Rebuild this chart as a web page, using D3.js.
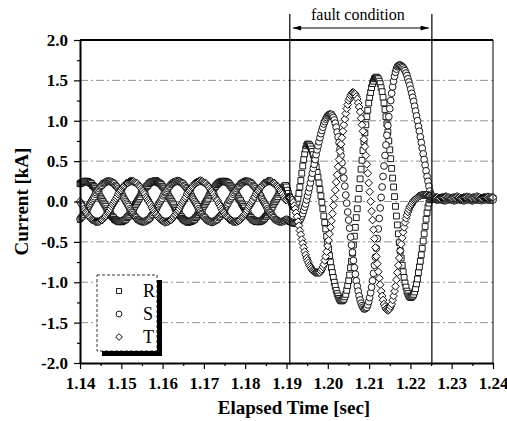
<!DOCTYPE html>
<html>
<head>
<meta charset="utf-8">
<script src="https://cdnjs.cloudflare.com/ajax/libs/d3/7.8.5/d3.min.js"></script>
<style>
  body { margin: 0; background: #fff; }
  svg text { font-family: 'Liberation Serif', 'Times New Roman', serif; fill: #000; }
</style>
</head>
<body>
<script>
// Phase currents [kA], one sample every 1/4320 s from 1.14 s
const startTime = 1.14
const sampleRate = 4320

const phaseR = [
  // before the fault
  0.22, 0.23, 0.23, 0.24, 0.25, 0.25,
  0.25, 0.25, 0.25, 0.24, 0.23, 0.23, 0.22, 0.20, 0.19, 0.18, 0.16, 0.14, 0.13, 0.11, 0.09, 0.06, 0.04, 0.02, 0.00,
  -0.02, -0.04, -0.06, -0.09, -0.11, -0.13, -0.14, -0.16, -0.18, -0.19, -0.20, -0.22, -0.23, -0.23, -0.24, -0.25, -0.25, -0.25,
  -0.25, -0.25, -0.24, -0.23, -0.23, -0.22, -0.20, -0.19, -0.18, -0.16, -0.14, -0.13, -0.11, -0.09, -0.06, -0.04, -0.02, 0.00,
  0.02, 0.04, 0.06, 0.09, 0.11, 0.13, 0.14, 0.16, 0.18, 0.19, 0.20,
  0.22, 0.23, 0.24, 0.24, 0.25, 0.25,
  0.25, 0.26, 0.25, 0.24, 0.23, 0.23, 0.22, 0.21, 0.19, 0.18, 0.16, 0.14, 0.12, 0.11, 0.09, 0.06, 0.04, 0.02, 0.00,
  -0.02, -0.04, -0.07, -0.09, -0.11, -0.13, -0.14, -0.16, -0.18, -0.19, -0.21, -0.22, -0.23, -0.24, -0.24, -0.25, -0.26, -0.25,
  -0.25, -0.25, -0.24, -0.23, -0.23, -0.22, -0.20, -0.19, -0.17, -0.16, -0.14, -0.12, -0.11, -0.09, -0.06, -0.04, -0.02, 0.00,
  0.02, 0.04, 0.07, 0.09, 0.11, 0.13, 0.14, 0.16, 0.18, 0.19, 0.21,
  0.22, 0.23, 0.24, 0.24, 0.25, 0.25,
  0.25, 0.25, 0.25, 0.24, 0.24, 0.23, 0.22, 0.20, 0.19, 0.17, 0.16, 0.14, 0.13, 0.11, 0.08, 0.06, 0.04, 0.02, 0.01,
  -0.02, -0.04, -0.06, -0.08, -0.11, -0.12, -0.14, -0.16, -0.18, -0.19, -0.20, -0.22, -0.23, -0.23, -0.24, -0.25, -0.25, -0.25,
  -0.25, -0.25, -0.24, -0.24, -0.23, -0.22, -0.21, -0.19, -0.18, -0.16, -0.14, -0.13, -0.11, -0.09, -0.07, -0.04, -0.02, 0.00,
  0.02, 0.04, 0.06, 0.09, 0.11, 0.13, 0.15, 0.16, 0.18, 0.19, 0.20,
  // fault
  0.18, 0.14, 0.10, 0.06, 0.02, -0.01, -0.04, -0.06, -0.07, -0.07, -0.05, -0.01, 0.04, 0.10, 0.18, 0.26, 0.35, 0.44, 0.52, 0.59, 0.65, 0.69,
  0.71, 0.71, 0.70, 0.68, 0.65, 0.62, 0.58, 0.53, 0.48, 0.43, 0.36, 0.30, 0.23, 0.15, 0.07, -0.01, -0.09, -0.18, -0.26,
  -0.34, -0.43, -0.51, -0.59, -0.67, -0.75, -0.82, -0.88, -0.94, -1.00, -1.05, -1.10, -1.14, -1.17, -1.20, -1.22, -1.23, -1.23,
  -1.22, -1.21, -1.18, -1.15, -1.10, -1.04, -0.98, -0.91, -0.82, -0.74, -0.64, -0.54, -0.43, -0.32, -0.20, -0.09, 0.03, 0.16,
  0.28, 0.40, 0.51, 0.63, 0.74, 0.85, 0.95, 1.05, 1.13, 1.22, 1.29, 1.35, 1.41, 1.46, 1.49, 1.52, 1.53, 1.54,
  1.53, 1.52, 1.49, 1.46, 1.41, 1.36, 1.29, 1.22, 1.14, 1.05, 0.96, 0.86, 0.75, 0.64, 0.53, 0.41, 0.29, 0.18,
  0.06, -0.06, -0.18, -0.29, -0.40, -0.51, -0.61, -0.70, -0.79, -0.87, -0.94, -1.01, -1.06, -1.11, -1.14, -1.17, -1.18, -1.19,
  -1.18, -1.17, -1.15, -1.12, -1.08, -1.02, -0.96, -0.88, -0.81, -0.74, -0.66, -0.58, -0.49, -0.40, -0.31, -0.22, -0.14, -0.07, -0.02, 0.02, 0.03,
  // after clearing
  0.03, 0.04, 0.04, 0.05, 0.05, 0.05, 0.04, 0.04, 0.04, 0.03, 0.03, 0.03, 0.03,
  0.04, 0.04, 0.04, 0.04, 0.05, 0.05, 0.04, 0.04, 0.03, 0.03, 0.03, 0.04, 0.04,
  0.04, 0.05, 0.05, 0.05, 0.04, 0.04, 0.03, 0.03, 0.03, 0.03, 0.04, 0.04, 0.04,
  0.05, 0.05, 0.04, 0.04, 0.04, 0.03, 0.03, 0.03, 0.04, 0.04, 0.04, 0.04, 0.05,
  0.05, 0.04, 0.04, 0.03, 0.03, 0.03, 0.04, 0.04, 0.04, 0.04, 0.05, 0.04, 0.04
]

const phaseS = [
  -0.22, -0.20, -0.19, -0.18, -0.16, -0.14, -0.13, -0.11, -0.09, -0.06, -0.04, -0.02, 0.00,
  0.02, 0.04, 0.06, 0.09, 0.11, 0.13, 0.14, 0.16, 0.18, 0.19, 0.20, 0.22, 0.23, 0.23, 0.24, 0.25, 0.25,
  0.25, 0.25, 0.25, 0.24, 0.23, 0.23, 0.22, 0.20, 0.19, 0.18, 0.16, 0.14, 0.13, 0.11, 0.09, 0.06, 0.04, 0.02, 0.00,
  -0.02, -0.04, -0.06, -0.09, -0.11, -0.13, -0.14, -0.16, -0.18, -0.19, -0.20, -0.22, -0.23, -0.23, -0.24, -0.25, -0.25, -0.25,
  -0.25, -0.25, -0.24, -0.23, -0.23,
  -0.22, -0.21, -0.19, -0.17, -0.16, -0.14, -0.12, -0.11, -0.09, -0.06, -0.04, -0.02, 0.00,
  0.02, 0.04, 0.07, 0.09, 0.11, 0.12, 0.14, 0.16, 0.18, 0.19, 0.21, 0.22, 0.23, 0.24, 0.24, 0.25, 0.25,
  0.26, 0.25, 0.25, 0.24, 0.23, 0.23, 0.22, 0.20, 0.19, 0.17, 0.16, 0.14, 0.13, 0.11, 0.09, 0.06, 0.04, 0.02, 0.00,
  -0.02, -0.04, -0.06, -0.09, -0.11, -0.13, -0.15, -0.16, -0.18, -0.19, -0.20, -0.22, -0.23, -0.24, -0.24, -0.25, -0.25, -0.26,
  -0.25, -0.25, -0.24, -0.23, -0.23,
  -0.22, -0.20, -0.19, -0.18, -0.16, -0.15, -0.13, -0.11, -0.08, -0.06, -0.04, -0.02, 0.01,
  0.02, 0.04, 0.06, 0.09, 0.11, 0.13, 0.14, 0.16, 0.18, 0.19, 0.20, 0.22, 0.23, 0.23, 0.24, 0.25, 0.25,
  0.25, 0.25, 0.25, 0.24, 0.24, 0.23, 0.22, 0.20, 0.19, 0.18, 0.16, 0.14, 0.13, 0.11, 0.09, 0.07, 0.04, 0.02, 0.00,
  -0.02, -0.04, -0.06, -0.09, -0.11, -0.13, -0.14, -0.16, -0.17, -0.19, -0.20, -0.22, -0.23, -0.23, -0.24, -0.25, -0.25, -0.25,
  -0.25, -0.25, -0.24, -0.24, -0.23,
  -0.22, -0.23, -0.24, -0.25, -0.25, -0.26, -0.26, -0.27, -0.27, -0.27,
  -0.27, -0.27, -0.26, -0.25, -0.23, -0.21, -0.18, -0.15, -0.11, -0.07, -0.03, 0.02, 0.07, 0.12, 0.17, 0.23, 0.29, 0.35, 0.41,
  0.46, 0.52, 0.58, 0.64, 0.69, 0.74, 0.79, 0.84, 0.88, 0.92, 0.96, 0.99, 1.02, 1.04, 1.06, 1.07, 1.08, 1.08,
  1.08, 1.06, 1.04, 1.01, 0.97, 0.92, 0.86, 0.80, 0.73, 0.65, 0.57, 0.48, 0.38, 0.29, 0.19, 0.08, -0.02, -0.13,
  -0.23, -0.33, -0.44, -0.54, -0.63, -0.73, -0.82, -0.90, -0.98, -1.05, -1.11, -1.17, -1.22, -1.26, -1.29, -1.31, -1.33, -1.33,
  -1.32, -1.31, -1.28, -1.24, -1.19, -1.13, -1.06, -0.98, -0.89, -0.79, -0.69, -0.58, -0.46, -0.34, -0.21, -0.08, 0.05, 0.18,
  0.31, 0.44, 0.57, 0.70, 0.82, 0.94, 1.05, 1.15, 1.25, 1.34, 1.42, 1.49, 1.55, 1.60, 1.64, 1.67, 1.68, 1.69,
  1.69, 1.68, 1.67, 1.66, 1.64, 1.62, 1.59, 1.56, 1.52, 1.48, 1.44, 1.39, 1.34, 1.29, 1.24, 1.18, 1.12,
  1.06, 1.00, 0.93, 0.87, 0.80, 0.73, 0.66, 0.59, 0.52, 0.45, 0.38, 0.31, 0.25, 0.19, 0.13, 0.09,
  0.06, 0.05, 0.04, 0.03, 0.03, 0.02, 0.02, 0.02, 0.03, 0.03, 0.02, 0.02, 0.02,
  0.01, 0.01, 0.02, 0.02, 0.02, 0.03, 0.03, 0.02, 0.02, 0.02, 0.01, 0.01, 0.02,
  0.02, 0.03, 0.03, 0.02, 0.02, 0.02, 0.02, 0.01, 0.01, 0.02, 0.02, 0.02, 0.03,
  0.03, 0.02, 0.02, 0.01, 0.01, 0.02, 0.02, 0.02, 0.02, 0.03, 0.02, 0.02, 0.02,
  0.01, 0.02, 0.02, 0.02, 0.03, 0.03, 0.02, 0.02, 0.02, 0.02, 0.02, 0.02, 0.02
]

const phaseT = [
  0.00,
  -0.02, -0.04, -0.06, -0.09, -0.11, -0.13, -0.14, -0.16, -0.18, -0.19, -0.20, -0.22, -0.23, -0.23, -0.24, -0.25, -0.25, -0.25,
  -0.25, -0.25, -0.24, -0.23, -0.23, -0.22, -0.20, -0.19, -0.18, -0.16, -0.14, -0.13, -0.11, -0.09, -0.06, -0.04, -0.02, 0.00,
  0.02, 0.04, 0.06, 0.09, 0.11, 0.13, 0.14, 0.16, 0.18, 0.19, 0.20, 0.22, 0.23, 0.23, 0.24, 0.25, 0.25,
  0.25, 0.25, 0.25, 0.24, 0.23, 0.23, 0.22, 0.20, 0.19, 0.18, 0.16, 0.14, 0.13, 0.11, 0.09, 0.06, 0.04, 0.02,
  0.00,
  -0.02, -0.04, -0.07, -0.09, -0.11, -0.13, -0.15, -0.16, -0.18, -0.19, -0.21, -0.22, -0.23, -0.24, -0.24, -0.25, -0.26, -0.25,
  -0.25, -0.25, -0.24, -0.23, -0.23, -0.22, -0.20, -0.19, -0.17, -0.16, -0.14, -0.12, -0.11, -0.09, -0.06, -0.04, -0.02, 0.00,
  0.02, 0.04, 0.06, 0.09, 0.11, 0.13, 0.14, 0.16, 0.18, 0.19, 0.21, 0.22, 0.23, 0.24, 0.24, 0.25, 0.25,
  0.26, 0.25, 0.25, 0.24, 0.23, 0.23, 0.22, 0.20, 0.19, 0.18, 0.16, 0.14, 0.13, 0.11, 0.09, 0.06, 0.04, 0.02,
  0.01,
  -0.02, -0.04, -0.06, -0.09, -0.11, -0.13, -0.14, -0.16, -0.18, -0.19, -0.20, -0.22, -0.23, -0.23, -0.24, -0.25, -0.25, -0.25,
  -0.25, -0.25, -0.24, -0.24, -0.23, -0.22, -0.20, -0.19, -0.18, -0.16, -0.15, -0.13, -0.11, -0.08, -0.06, -0.04, -0.02, 0.00,
  0.02, 0.05, 0.06, 0.09, 0.11, 0.13, 0.14, 0.16, 0.18, 0.19, 0.20, 0.22, 0.23, 0.23, 0.24, 0.25, 0.25,
  0.25, 0.25, 0.25, 0.24, 0.23, 0.23, 0.22, 0.20, 0.19, 0.18, 0.16, 0.14, 0.13, 0.11, 0.09, 0.06, 0.04, 0.02,
  0.02, 0.04, 0.05, 0.05, 0.05, 0.04, 0.02, -0.01, -0.05, -0.09, -0.14, -0.19, -0.25, -0.30, -0.36, -0.41, -0.47,
  -0.52, -0.57, -0.62, -0.66, -0.70, -0.73, -0.76, -0.79, -0.81, -0.83, -0.85, -0.86, -0.87, -0.88, -0.88, -0.88, -0.88,
  -0.88, -0.88, -0.86, -0.84, -0.81, -0.78, -0.73, -0.68, -0.62, -0.55, -0.48, -0.40, -0.32, -0.24, -0.15, -0.05, 0.04, 0.14, 0.24,
  0.33, 0.43, 0.52, 0.62, 0.71, 0.79, 0.87, 0.95, 1.02, 1.09, 1.15, 1.20, 1.25, 1.28, 1.31, 1.33, 1.35, 1.35,
  1.34, 1.33, 1.30, 1.27, 1.22, 1.17, 1.11, 1.03, 0.95, 0.87, 0.77, 0.68, 0.57, 0.46, 0.35, 0.23, 0.12, 0.00,
  -0.12, -0.23, -0.35, -0.46, -0.57, -0.68, -0.77, -0.87, -0.95, -1.03, -1.11, -1.17, -1.22, -1.27, -1.30, -1.33, -1.34, -1.35,
  -1.34, -1.33, -1.30, -1.27, -1.22, -1.17, -1.11, -1.05, -0.97, -0.88, -0.79, -0.70, -0.61, -0.53, -0.45, -0.38, -0.32, -0.26,
  -0.21, -0.17, -0.13, -0.10, -0.07, -0.05, -0.03, -0.01, 0.01, 0.02, 0.03, 0.04, 0.05, 0.06, 0.07, 0.07, 0.08, 0.08,
  0.08, 0.08, 0.08, 0.08, 0.08, 0.07, 0.07, 0.07, 0.06,
  0.06, 0.06, 0.06, 0.05, 0.05, 0.05, 0.05, 0.04, 0.04, 0.04, 0.05, 0.05, 0.05,
  0.05, 0.06, 0.06, 0.05, 0.05, 0.05, 0.04, 0.04, 0.04, 0.05, 0.05, 0.05, 0.05,
  0.06, 0.06, 0.05, 0.05, 0.04, 0.04, 0.04, 0.05, 0.05, 0.05, 0.05, 0.06, 0.05,
  0.05, 0.05, 0.04, 0.04, 0.05, 0.05, 0.05, 0.05, 0.06, 0.06, 0.05, 0.05, 0.04,
  0.04, 0.04, 0.05, 0.05, 0.05, 0.05, 0.05, 0.06, 0.05, 0.05, 0.05, 0.05, 0.05
]

const seriesNames = ['R', 'S', 'T']
const faultWindow = [1.1908, 1.2252]
const faultLabel = 'fault condition'
const xTicks = [1.14, 1.15, 1.16, 1.17, 1.18, 1.19, 1.20, 1.21, 1.22, 1.23, 1.24]
const xMinorTicks = [1.145, 1.155, 1.165, 1.175, 1.185, 1.195, 1.205, 1.215, 1.225, 1.235]
const yTicks = [-2.0, -1.5, -1.0, -0.5, 0.0, 0.5, 1.0, 1.5, 2.0]
const yMinorTicks = [-1.75, -1.25, -0.75, -0.25, 0.25, 0.75, 1.25, 1.75]
const gridValues = [-1.5, -1.0, -0.5, 0.0, 0.5, 1.0, 1.5]

// -----------------------------------------------------------------------------

const width = 507
const height = 421

const svg = d3.select('body').append('svg')
  .attr('width', width)
  .attr('height', height)

svg.append('rect')
  .attr('width', width)
  .attr('height', height)
  .attr('fill', '#fff')

const x = d3.scaleLinear().domain([1.14, 1.24]).range([80, 493])
const y = d3.scaleLinear().domain([-2, 2]).range([363, 40])

// dash-dot grid
svg.append('g')
  .selectAll('line')
  .data(gridValues)
  .join('line')
  .attr('x1', x(1.14))
  .attr('x2', x(1.24))
  .attr('y1', d => y(d))
  .attr('y2', d => y(d))
  .attr('stroke', '#777')
  .attr('stroke-width', 0.8)
  .attr('stroke-dasharray', '8,3,2,3')

// markers, one shape per phase
const shapes = {
  R: {type: d3.symbolSquare, size: 34, rotate: 0},
  S: {type: d3.symbolCircle, size: 36, rotate: 0},
  T: {type: d3.symbolSquare, size: 30, rotate: 45}
}
const series = [phaseR, phaseS, phaseT].map((values, k) => {
  return {
    name: seriesNames[k],
    points: values.map((v, i) => ({t: startTime + i / sampleRate, v: v}))
  }
})

series.forEach(s => {
  const shape = shapes[s.name]
  svg.append('g')
    .attr('class', 'series-' + s.name)
    .selectAll('path')
    .data(s.points)
    .join('path')
    .attr('d', d3.symbol().type(shape.type).size(shape.size))
    .attr('transform', d => 'translate(' + x(d.t) + ',' + y(d.v) + ') rotate(' + shape.rotate + ')')
    .attr('fill', '#fff')
    .attr('stroke', '#000')
    .attr('stroke-width', 0.9)
})

// axes
const styleAxis = g => {
  g.attr('font-family', null).attr('font-size', null)
  g.selectAll('.tick line').attr('stroke', '#000').attr('stroke-width', 1.2)
  g.selectAll('.tick text')
    .style('font-size', '17px')
    .style('font-weight', 'bold')
}

svg.append('g')
  .attr('transform', 'translate(0,' + y(-2) + ')')
  .call(d3.axisBottom(x).tickValues(xTicks).tickFormat(d => d.toFixed(2)).tickSize(6).tickSizeOuter(0).tickPadding(8))
  .call(styleAxis)
  .call(g => g.select('.domain').attr('stroke-width', 2))

svg.append('g')
  .attr('transform', 'translate(0,' + y(-2) + ')')
  .call(d3.axisBottom(x).tickValues(xMinorTicks).tickFormat('').tickSize(3))
  .call(styleAxis)
  .call(g => g.select('.domain').remove())

svg.append('g')
  .attr('transform', 'translate(' + x(1.14) + ',0)')
  .call(d3.axisLeft(y).tickValues(yTicks).tickFormat(d => d.toFixed(1)).tickSize(6).tickSizeOuter(0).tickPadding(6))
  .call(styleAxis)
  .call(g => g.select('.domain').attr('stroke-width', 2))

svg.append('g')
  .attr('transform', 'translate(' + x(1.14) + ',0)')
  .call(d3.axisLeft(y).tickValues(yMinorTicks).tickFormat('').tickSize(3))
  .call(styleAxis)
  .call(g => g.select('.domain').remove())

// frame top and right
svg.append('line')
  .attr('x1', x(1.14)).attr('x2', x(1.24))
  .attr('y1', y(2)).attr('y2', y(2))
  .attr('stroke', '#000').attr('stroke-width', 2)
svg.append('line')
  .attr('x1', x(1.24)).attr('x2', x(1.24))
  .attr('y1', y(2)).attr('y2', y(-2))
  .attr('stroke', '#000').attr('stroke-width', 1)

// axis titles
svg.append('text')
  .attr('transform', 'translate(21,' + y(0) + ') rotate(-90)')
  .attr('text-anchor', 'middle')
  .attr('dy', '0.35em')
  .style('font-size', '19px')
  .style('font-weight', 'bold')
  .text('Current [kA]')

svg.append('text')
  .attr('x', 294)
  .attr('y', 414)
  .attr('text-anchor', 'middle')
  .style('font-size', '19px')
  .style('font-weight', 'bold')
  .text('Elapsed Time [sec]')

// fault window
svg.append('g')
  .selectAll('line')
  .data(faultWindow)
  .join('line')
  .attr('x1', d => x(d)).attr('x2', d => x(d))
  .attr('y1', 14).attr('y2', y(-2) + 2)
  .attr('stroke', '#000')
  .attr('stroke-width', 1.2)

svg.append('defs')
  .append('marker')
  .attr('id', 'arrowhead')
  .attr('viewBox', '0 0 10 6')
  .attr('refX', 10)
  .attr('refY', 3)
  .attr('markerWidth', 10)
  .attr('markerHeight', 5)
  .attr('markerUnits', 'userSpaceOnUse')
  .attr('orient', 'auto-start-reverse')
  .append('path')
  .attr('d', 'M0,0 L10,3 L0,6 Z')
  .attr('fill', '#000')

svg.append('line')
  .attr('x1', x(faultWindow[0]) + 3)
  .attr('x2', x(faultWindow[1]) - 3)
  .attr('y1', 28).attr('y2', 28)
  .attr('stroke', '#000')
  .attr('stroke-width', 1)
  .attr('marker-start', 'url(#arrowhead)')
  .attr('marker-end', 'url(#arrowhead)')

svg.append('text')
  .attr('x', (x(faultWindow[0]) + x(faultWindow[1])) / 2 - 3)
  .attr('y', 20)
  .attr('text-anchor', 'middle')
  .style('font-size', '16px')
  .text(faultLabel)

// legend with drop shadow
const legend = svg.append('g').attr('transform', 'translate(97,275)')
legend.append('rect')
  .attr('x', 5).attr('y', 5)
  .attr('width', 60).attr('height', 76)
  .attr('fill', '#000')
legend.append('rect')
  .attr('width', 60).attr('height', 76)
  .attr('fill', '#fff')
  .attr('stroke', '#000')
  .attr('stroke-width', 0.8)
  .attr('stroke-dasharray', '3,2')

const rows = legend.selectAll('g.row')
  .data(seriesNames)
  .join('g')
  .attr('class', 'row')
  .attr('transform', (d, i) => 'translate(0,' + (16 + i * 23) + ')')

rows.append('path')
  .attr('d', d => d3.symbol().type(shapes[d].type).size(shapes[d].size * 0.75)())
  .attr('transform', d => 'translate(22,0) rotate(' + shapes[d].rotate + ')')
  .attr('fill', '#fff')
  .attr('stroke', '#000')
  .attr('stroke-width', 0.9)

rows.append('text')
  .attr('x', 46)
  .attr('y', 6)
  .style('font-size', '18px')
  .text(d => d)
</script>
</body>
</html>
